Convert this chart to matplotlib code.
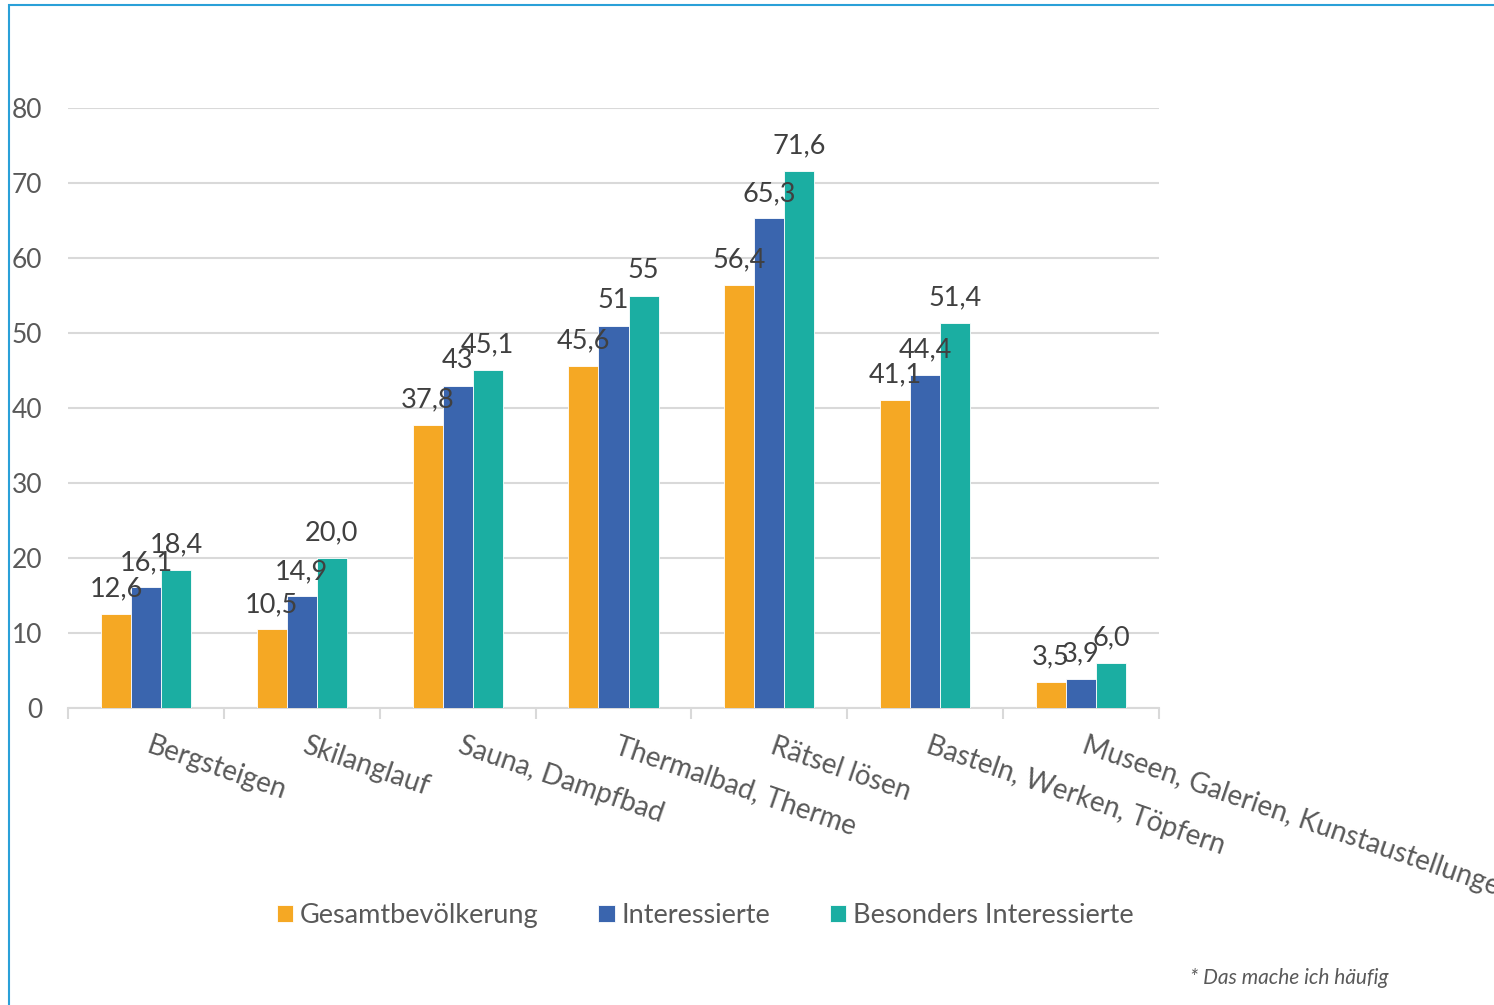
import numpy as np
import matplotlib.pyplot as plt
from matplotlib.patches import Rectangle

categories = [
    "Bergsteigen",
    "Skilanglauf",
    "Sauna, Dampfbad",
    "Thermalbad, Therme",
    "Rätsel lösen",
    "Basteln, Werken, Töpfern",
    "Museen, Galerien, Kunstaustellungen",
]
series_names = ["Gesamtbevölkerung", "Interessierte", "Besonders Interessierte"]
gesamt = [12.6, 10.5, 37.8, 45.6, 56.4, 41.1, 3.5]
interessierte = [16.1, 14.9, 43.0, 51.0, 65.3, 44.4, 3.9]
besonders = [18.4, 20.0, 45.1, 55.0, 71.6, 51.4, 6.0]
# labels as printed in the chart (some without decimals)
gesamt_lbl = ["12,6", "10,5", "37,8", "45,6", "56,4", "41,1", "3,5"]
interessierte_lbl = ["16,1", "14,9", "43", "51", "65,3", "44,4", "3,9"]
besonders_lbl = ["18,4", "20,0", "45,1", "55", "71,6", "51,4", "6,0"]
yticks = [0, 10, 20, 30, 40, 50, 60, 70, 80]
footnote = "* Das mache ich häufig"

colors = ["#F5A824", "#3A65AE", "#1BAEA2"]
text_col = "#404040"
tick_col = "#595959"
grid_col = "#D9D9D9"

plt.rcParams["font.family"] = ["Lato", "DejaVu Sans"]

fig = plt.figure(figsize=(14.94, 10.05), dpi=100)
ax = fig.add_axes([68 / 1494, 297 / 1005, 1091 / 1494, 600 / 1005])

x = np.arange(len(categories))
w = 0.1925
values = [gesamt, interessierte, besonders]
labels = [gesamt_lbl, interessierte_lbl, besonders_lbl]
for i, (vals, lbls) in enumerate(zip(values, labels)):
    pos = x + (i - 1) * w
    ax.bar(pos, vals, width=w, color=colors[i], edgecolor="white",
           linewidth=0.6, label=series_names[i], zorder=3)
    for px, v, t in zip(pos, vals, lbls):
        ax.annotate(t, (px, v), xytext=(0, 12.5), textcoords="offset points",
                    ha="center", va="baseline", fontsize=19.5, color=text_col,
                    zorder=4)

ax.set_xlim(-0.5, len(categories) - 0.5)
ax.set_ylim(0, 80)
ax.set_yticks(yticks)
ax.tick_params(axis="y", length=0, pad=18.5, labelsize=19, labelcolor=tick_col)
ax.yaxis.grid(True, color=grid_col, linewidth=1.5, zorder=0)
for s in ["top", "right", "left"]:
    ax.spines[s].set_visible(False)
ax.spines["bottom"].set_color(grid_col)
ax.spines["bottom"].set_linewidth(1.5)

# tick marks between categories
ax.set_xticks(np.arange(-0.5, len(categories)), minor=True)
ax.set_xticks([])
ax.tick_params(axis="x", which="minor", length=8, width=1.5, color=grid_col)
for xi, name in zip(x, categories):
    ax.text(xi + 0.04, -3.3, name, rotation=-19, rotation_mode="anchor",
            ha="left", va="top", fontsize=20, color=tick_col, clip_on=False)

leg = fig.legend(loc="center", bbox_to_anchor=(0.472, 0.089), ncol=3,
                 frameon=False, fontsize=19.5, handlelength=0.6, handleheight=0.6,
                 handletextpad=0.25, columnspacing=2.2)
for t in leg.get_texts():
    t.set_color(tick_col)

fig.text(1190 / 1494, 1 - 978 / 1005, footnote, fontsize=15, style="italic",
         color=tick_col, va="center", ha="left")

# light blue frame (left and top edges visible)
fig.patches.append(Rectangle((9 / 1494, -0.1), 1.2, (1005 - 5) / 1005 + 0.1,
                             transform=fig.transFigure, fill=False,
                             edgecolor="#2AA0D8", linewidth=1.5, zorder=0))

fig.savefig("out.png", dpi=100)
